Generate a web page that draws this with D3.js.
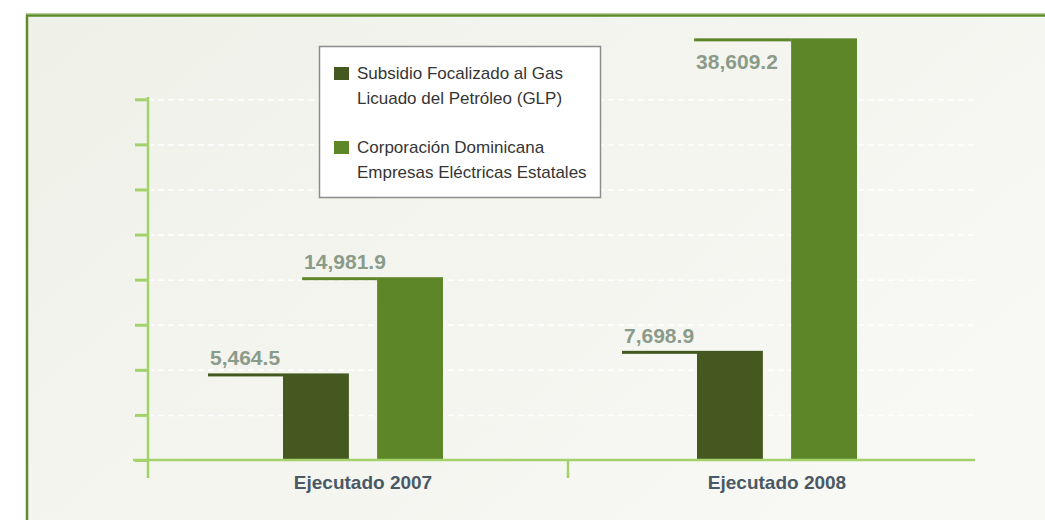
<!DOCTYPE html>
<html lang="es">
<head>
<meta charset="utf-8">
<title>Subsidios ejecutados 2007-2008</title>
<script src="https://d3js.org/d3.v7.min.js"></script>
<style>
html,body {margin:0; padding:0; background:#fff;}
svg {display:block;}
</style>
</head>
<body>
<script>
// datos del grafico
var categories = ['Ejecutado 2007', 'Ejecutado 2008']
var seriesNames = [
  ['Subsidio Focalizado al Gas', 'Licuado del Petróleo (GLP)'],
  ['Corporación Dominicana', 'Empresas Eléctricas Estatales']
]
var glpValues = [5464.5, 7698.9]
var cdeeeValues = [14981.9, 38609.2]
// escala del original (no empieza en cero, las marcas no llevan texto)
var yDomain = [-3100, 32580]
var yTickValues = [-3100, 1360, 5820, 10280, 14740, 19200, 23660, 28120, 32580]

var W = 1045, H = 520
var colors = ['#44581f', '#5c8627']

var svg = d3.select('body').append('svg').attr('width', W).attr('height', H)

// fondo y marco
var defs = svg.append('defs')
var grad = defs.append('linearGradient').attr('id', 'bg').attr('x1', 0).attr('y1', 0).attr('x2', 1).attr('y2', 0.6)
grad.append('stop').attr('offset', 0).attr('stop-color', '#eff1e8')
grad.append('stop').attr('offset', 1).attr('stop-color', '#f8f8f5')
svg.append('rect').attr('x', 27).attr('y', 15).attr('width', W).attr('height', H)
  .attr('fill', 'url(#bg)')
svg.append('line').attr('x1', 26).attr('x2', W).attr('y1', 13.5).attr('y2', 13.5)
  .attr('stroke', '#b9cf9a').attr('stroke-width', 1)
svg.append('rect').attr('x', 27).attr('y', 15.5).attr('width', W).attr('height', H)
  .attr('fill', 'none').attr('stroke', '#5e8b2b').attr('stroke-width', 2.5)

var x0 = d3.scaleBand().domain(categories).range([156, 984])
var x1 = d3.scaleBand().domain([0, 1]).range([-80, 80]).paddingInner(0.3)
var y = d3.scaleLinear().domain(yDomain).range([460, 99.3])

var axisColor = '#a3d26b'
var plotRight = 975

// lineas de cuadricula
var grid = svg.append('g').attr('transform', 'translate(148,0)')
  .call(d3.axisLeft(y).tickValues(yTickValues.slice(1)).tickSize(-(plotRight - 148)).tickFormat(''))
grid.select('.domain').remove()
grid.selectAll('line').attr('stroke', '#ffffff').attr('stroke-width', 1.5).attr('stroke-dasharray', '6,4')

// eje y
var yAx = svg.append('g').attr('transform', 'translate(148,0)')
  .call(d3.axisLeft(y).tickValues(yTickValues).tickSize(13).tickFormat(''))
yAx.select('.domain').remove()
yAx.selectAll('line').attr('stroke', axisColor).attr('stroke-width', 3)
svg.append('line').attr('x1', 148).attr('x2', 148).attr('y1', 97).attr('y2', 478)
  .attr('stroke', axisColor).attr('stroke-width', 2.5)

// barras
var rows = []
categories.forEach(function(c, i) {
  rows.push({cat: c, s: 0, v: glpValues[i]})
  rows.push({cat: c, s: 1, v: cdeeeValues[i]})
})
var fmt = d3.format(',.1f')
var bars = svg.append('g')
rows.forEach(function(d) {
  var bx = x0(d.cat) + x0.bandwidth() / 2 + x1(d.s)
  var top = y(d.v)
  bars.append('rect').attr('x', bx).attr('y', top)
    .attr('width', x1.bandwidth()).attr('height', 460 - top).attr('fill', colors[d.s])
  var below = top < 60
  var len = below ? 97 : 75
  bars.append('rect').attr('x', bx - len).attr('y', top).attr('width', len).attr('height', 3)
    .attr('fill', colors[d.s])
  bars.append('text').attr('x', bx - len + 2).attr('y', below ? top + 31 : top - 8)
    .attr('font-family', 'Liberation Sans, Arial, sans-serif').attr('font-weight', 'bold')
    .attr('font-size', 21).attr('fill', '#8b9b8a').text(fmt(d.v))
})

// eje x
svg.append('line').attr('x1', 133).attr('x2', plotRight).attr('y1', 460).attr('y2', 460)
  .attr('stroke', axisColor).attr('stroke-width', 2.5)
svg.append('line').attr('x1', x0(categories[1])).attr('x2', x0(categories[1]) - 0).attr('y1', 460).attr('y2', 478)
  .attr('transform', 'translate(-2,0)')
  .attr('stroke', axisColor).attr('stroke-width', 2.5)
svg.append('g').selectAll('text').data(categories).join('text')
  .attr('x', function(d) { return x0(d) + x0.bandwidth() / 2 })
  .attr('y', 489).attr('text-anchor', 'middle')
  .attr('font-family', 'Liberation Sans, Arial, sans-serif').attr('font-weight', 'bold')
  .attr('font-size', 19).attr('fill', '#4a5966').text(function(d) { return d })

// leyenda
var lg = svg.append('g')
lg.append('rect').attr('x', 319.5).attr('y', 46.5).attr('width', 281).attr('height', 151)
  .attr('fill', '#ffffff').attr('stroke', '#8c8c8c').attr('stroke-width', 1.5)
seriesNames.forEach(function(lines, i) {
  var ty = 79 + i * 74
  lg.append('rect').attr('x', 334).attr('y', ty - 12).attr('width', 15).attr('height', 13).attr('fill', colors[i])
  lines.forEach(function(t, j) {
    lg.append('text').attr('x', 357).attr('y', ty + j * 25)
      .attr('font-family', 'Liberation Sans, Arial, sans-serif').attr('font-size', 17)
      .attr('fill', '#353535').text(t)
  })
})
</script>
</body>
</html>
